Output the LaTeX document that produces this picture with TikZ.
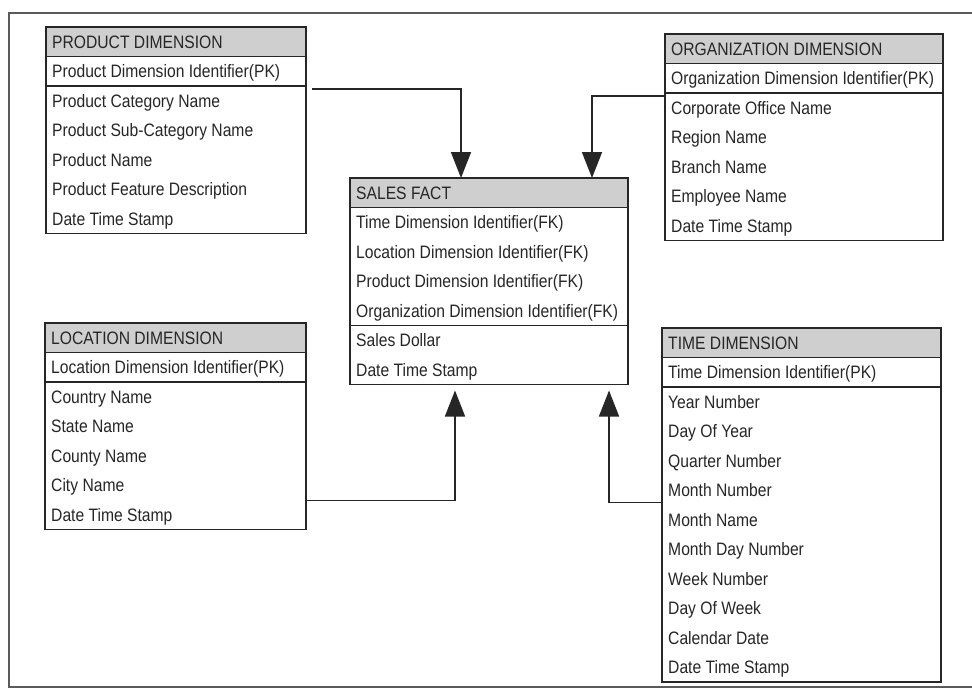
\documentclass[tikz,border=0pt]{standalone}
\usepackage{fontspec}
\setmainfont{Liberation Sans}[FakeStretch=0.87]
\newfontfamily\hdrfont{Liberation Sans}[FakeStretch=0.87]
\usetikzlibrary{arrows.meta,calc}
\definecolor{ink}{HTML}{262626}
\definecolor{hdrgray}{HTML}{CFCFCF}
\definecolor{framegray}{HTML}{5A5A5A}
\tikzset{
 tbl/.style={draw=ink, line width=1.8pt, inner sep=0pt, outer sep=0pt, anchor=north west},
 hdr/.style={tbl, fill=hdrgray, minimum height=29.5pt},
 hdrtxt/.style={anchor=west, inner sep=0pt, font=\hdrfont\fontsize{18}{21}\selectfont, text=ink, text height=12.5pt, text depth=0pt},
 rowtxt/.style={anchor=west, inner sep=0pt, font=\fontsize{18}{21}\selectfont, text=ink, text height=12.5pt, text depth=0pt},
 link/.style={draw=ink, line width=1.6pt, -{Triangle[length=26pt,width=20pt]}},
}
% #1 name #2 x #3 y #4 w #5 title #6 nk #7 klist #8 nb #9 blist
\newcommand\ertab[9]{%
 \node[hdr, minimum width=#4pt] (#1h) at (#2,#3) {};
 \node[hdrtxt] (#1ht) at ([xshift=6pt]#1h.west) {#5};
 \node[tbl, minimum width=#4pt, minimum height=#6*29.5pt] (#1k) at (#2,#3+29.5) {};
 \node[tbl, minimum width=#4pt, minimum height=#8*29.5pt] (#1b) at (#2,#3+29.5+#6*29.5) {};
 \foreach[count=\i] \r in {#7} {\node[rowtxt] (#1k\i) at (#2+6,#3+29.5+\i*29.5-14.75) {\r};}
 \foreach[count=\i] \r in {#9} {\node[rowtxt] (#1b\i) at (#2+6,#3+29.5+#6*29.5+\i*29.5-14.75) {\r};}
}
\begin{document}
\begin{tikzpicture}[x=1pt,y=-1pt]
\useasboundingbox[fill=white] (0,0) rectangle (972,689);
\draw[framegray, line width=1.5pt] (972,13) -- (9,13) -- (9,687) -- (972,687);
\ertab{prod}{46}{27}{260}{PRODUCT DIMENSION}{1}{Product Dimension Identifier(PK)}{5}{Product Category Name,Product Sub-Category Name,Product Name,Product Feature Description,Date Time Stamp}
\ertab{org}{665}{34}{278}{ORGANIZATION DIMENSION}{1}{Organization Dimension Identifier(PK)}{5}{Corporate Office Name,Region Name,Branch Name,Employee Name,Date Time Stamp}
\ertab{sales}{350}{178}{278}{SALES FACT}{4}{Time Dimension Identifier(FK),Location Dimension Identifier(FK),Product Dimension Identifier(FK),Organization Dimension Identifier(FK)}{2}{Sales Dollar,Date Time Stamp}
\ertab{loc}{45}{323}{261}{LOCATION DIMENSION}{1}{Location Dimension Identifier(PK)}{5}{Country Name,State Name,County Name,City Name,Date Time Stamp}
\ertab{time}{662}{328}{279}{TIME DIMENSION}{1}{Time Dimension Identifier(PK)}{10}{Year Number,Day Of Year,Quarter Number,Month Number,Month Name,Month Day Number,Week Number,Day Of Week,Calendar Date,Date Time Stamp}
\draw[link] ([xshift=6pt,yshift=-3pt]prodb.north east) -| ([xshift=111pt]salesh.north west);
\draw[link] ([yshift=-3pt]orgb.north west) -| ([xshift=242pt]salesh.north west);
\draw[link] ([yshift=29pt]locb.south east) -| ([xshift=105pt,yshift=-6pt]salesb.south west);
\draw[link] ([yshift=-115.5pt]timeb.north west) -| ([xshift=259pt,yshift=-6pt]salesb.south west);
\end{tikzpicture}
\end{document}
